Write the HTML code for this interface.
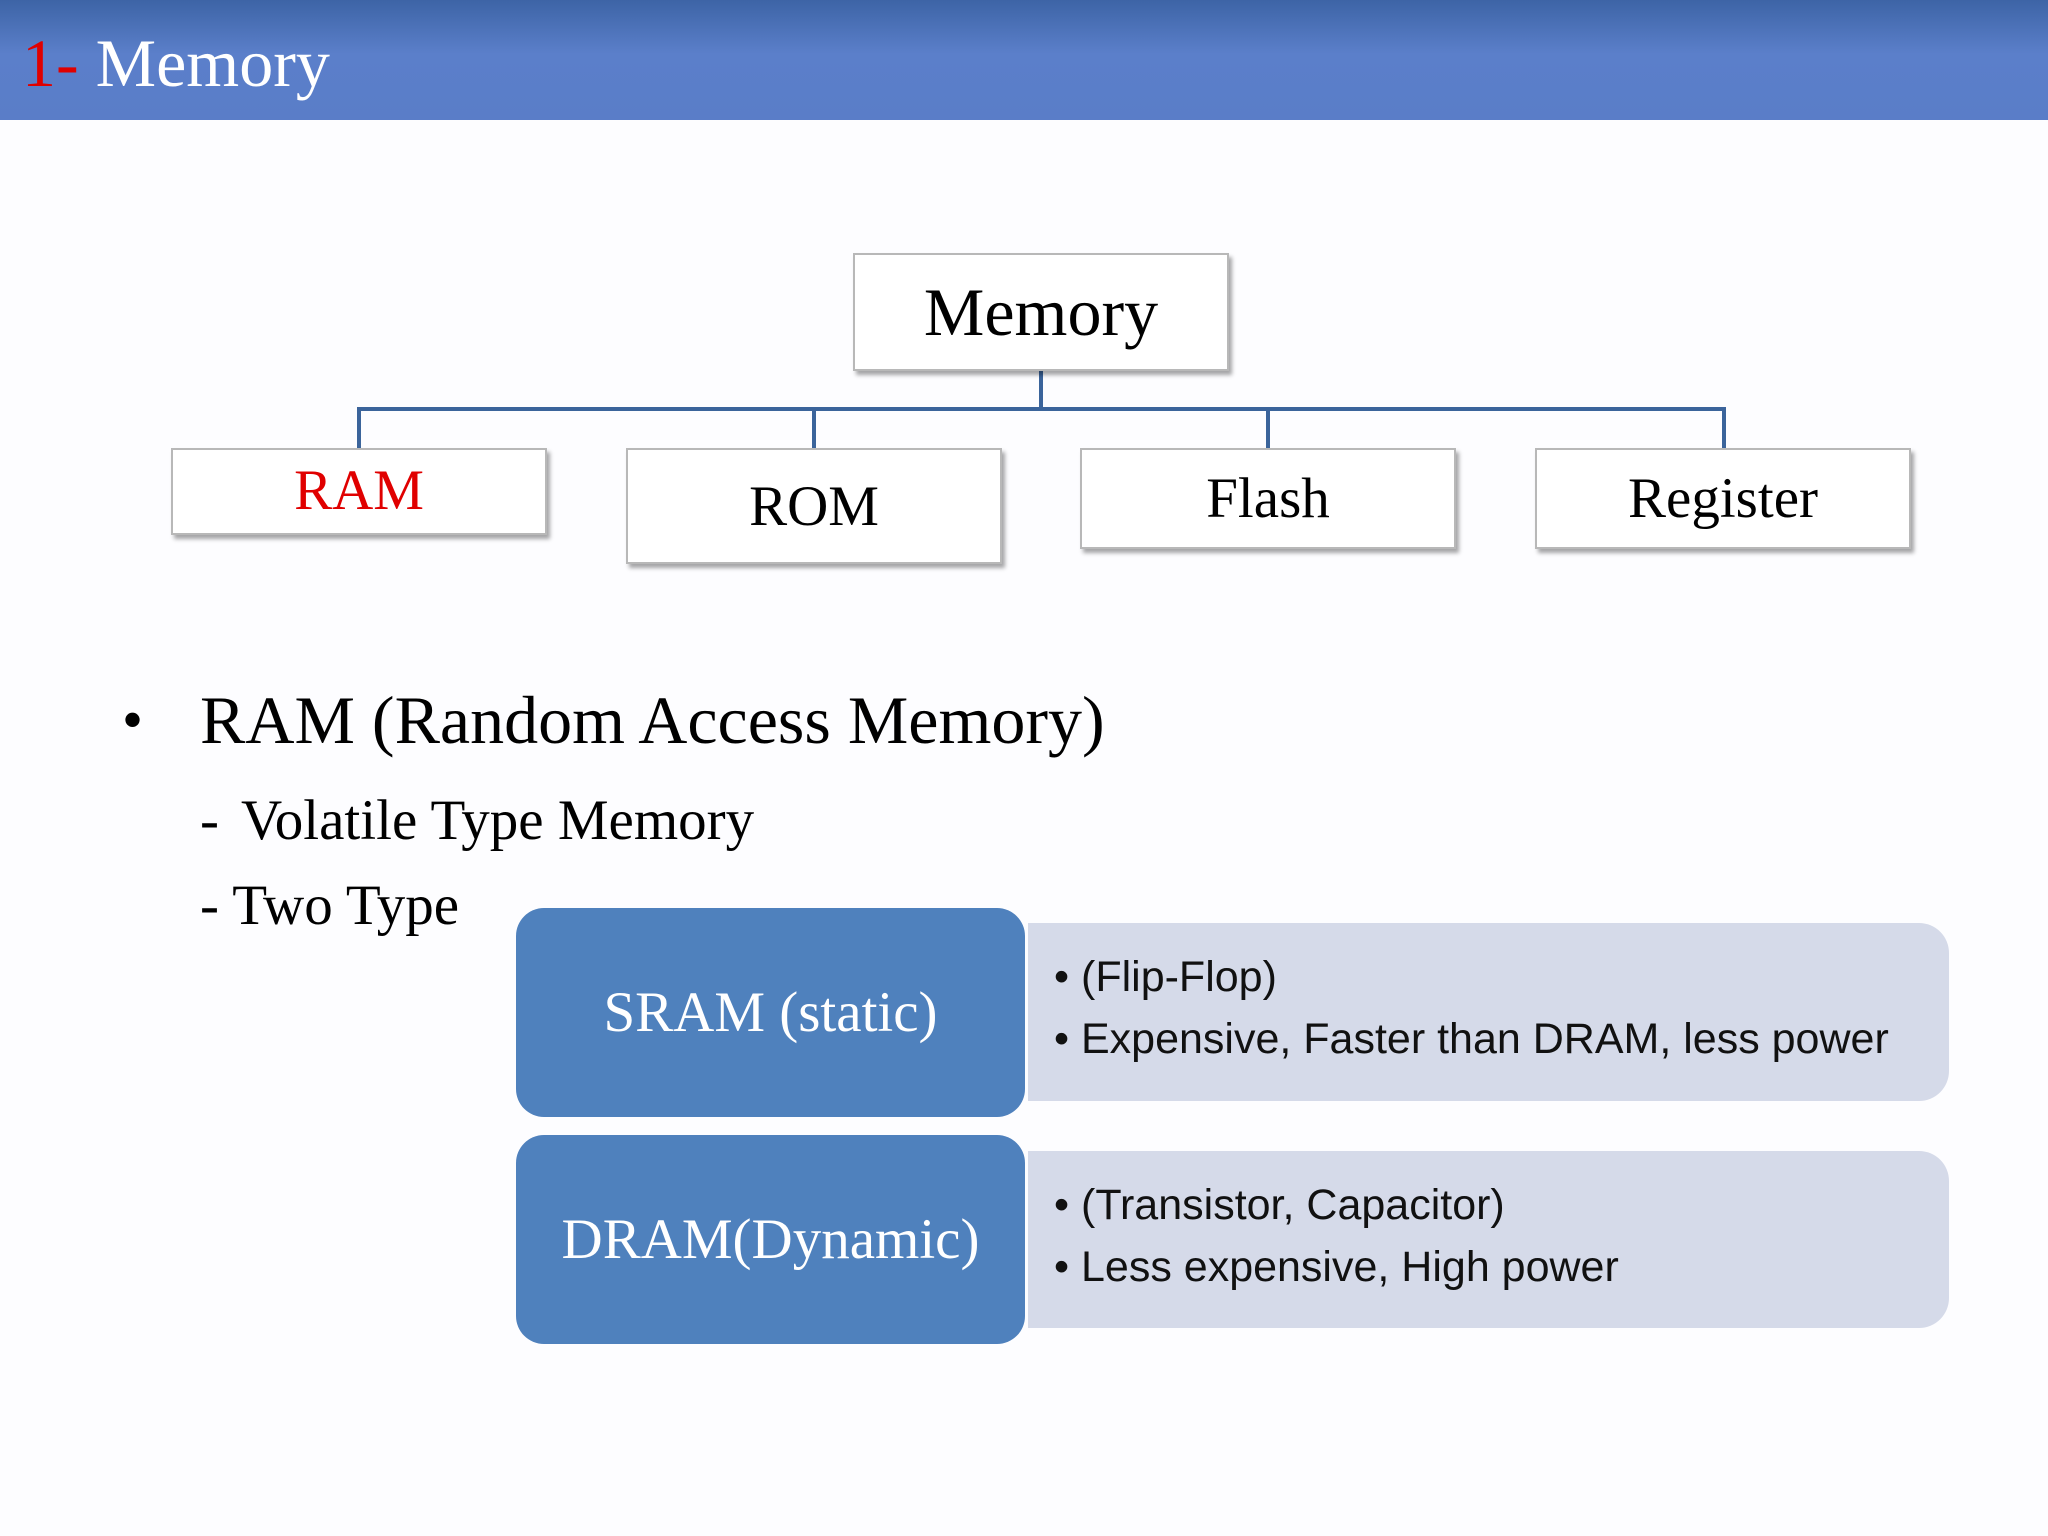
<!DOCTYPE html>
<html><head><meta charset="utf-8"><style>
body{margin:0;width:2048px;height:1536px;position:relative;background:#fdfdff;font-family:"Liberation Serif",serif;overflow:hidden}
.hdr{position:absolute;left:0;top:0;width:2048px;height:120px;background:linear-gradient(#3d64a6,#5b7fca 45%,#5a7dc8)}
.t{position:absolute;white-space:nowrap}
.box{position:absolute;background:#fff;border:2px solid #b8b8b8;box-shadow:3px 4px 4px rgba(0,0,0,.35);display:flex;align-items:center;justify-content:center;font-size:57px;color:#000}
.ln{position:absolute;background:#3b649b}
.blue{position:absolute;background:#4f81bd;border-radius:28px;color:#fff;font-size:57px;display:flex;align-items:center;justify-content:center}
.lt{position:absolute;background:#d5dae9;border-radius:0 30px 30px 0;font-family:"Liberation Sans",sans-serif;font-size:43px;color:#111}
.lt div{position:absolute;left:26px;white-space:nowrap}
</style></head><body>
<div class="hdr"></div>
<div class="t" style="left:22px;top:26px;font-size:68px;color:#fff;line-height:74px"><span style="color:#e00000">1- </span>Memory</div>

<div class="ln" style="left:1039px;top:371px;width:4px;height:40px"></div>
<div class="ln" style="left:357px;top:407px;width:1369px;height:4px"></div>
<div class="ln" style="left:357px;top:407px;width:4px;height:42px"></div>
<div class="ln" style="left:812px;top:407px;width:4px;height:42px"></div>
<div class="ln" style="left:1266px;top:407px;width:4px;height:42px"></div>
<div class="ln" style="left:1722px;top:407px;width:4px;height:42px"></div>

<div class="box" style="left:853px;top:253px;width:372px;height:114px;font-size:68px">Memory</div>
<div class="box" style="left:171px;top:448px;width:372px;height:83px;color:#e00000;align-items:flex-start"><span style="margin-top:8px">RAM</span></div>
<div class="box" style="left:626px;top:448px;width:372px;height:112px">ROM</div>
<div class="box" style="left:1080px;top:448px;width:372px;height:97px">Flash</div>
<div class="box" style="left:1535px;top:448px;width:372px;height:97px">Register</div>

<div class="t" style="left:122px;top:680px;font-size:60px;line-height:80px">•</div>
<div class="t" style="left:200px;top:680px;font-size:68px;line-height:80px">RAM (Random Access Memory)</div>
<div class="t" style="left:200px;top:788px;font-size:57px;line-height:66px">-<span style="margin-left:22px">Volatile Type Memory</span></div>
<div class="t" style="left:200px;top:873px;font-size:57px;line-height:66px">- Two Type</div>

<div class="lt" style="left:1028px;top:923px;width:921px;height:178px">
<div style="top:30px">• (Flip-Flop)</div><div style="top:92px">• Expensive, Faster than DRAM, less power</div></div>
<div class="blue" style="left:516px;top:908px;width:509px;height:209px">SRAM (static)</div>
<div class="lt" style="left:1028px;top:1151px;width:921px;height:177px">
<div style="top:30px">• (Transistor, Capacitor)</div><div style="top:92px">• Less expensive, High power</div></div>
<div class="blue" style="left:516px;top:1135px;width:509px;height:209px">DRAM(Dynamic)</div>
</body></html>
